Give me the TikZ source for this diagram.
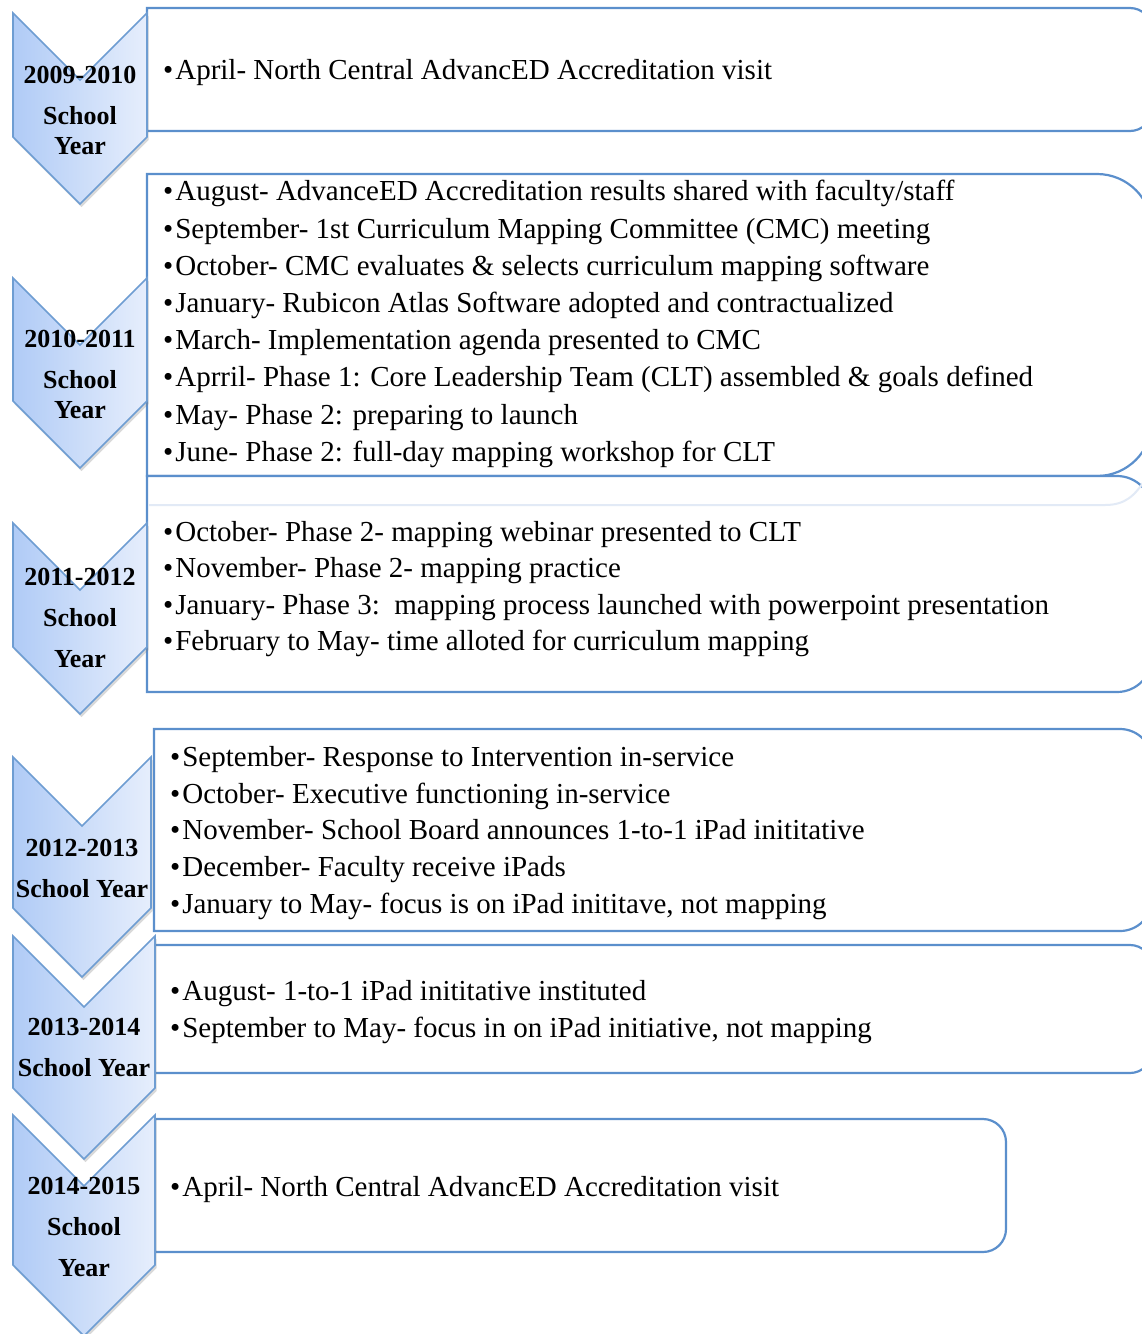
\documentclass[tikz,border=0pt]{standalone}
\usepackage{fontspec}
\setmainfont{Liberation Serif}
\usetikzlibrary{shadows}

\definecolor{boxblue}{RGB}{91,143,204}
\definecolor{chevline}{RGB}{110,157,210}
\definecolor{chevdark}{RGB}{176,203,246}
\definecolor{chevlight}{RGB}{230,238,252}
\definecolor{faintblue}{RGB}{226,234,246}

\tikzset{
  eventline/.style={draw=boxblue, line width=2.2pt, fill=white},
  faintline/.style={draw=faintblue, line width=2pt},
  yearchev/.style={draw=chevline, line width=1.6pt, left color=chevdark, right color=chevlight,
    drop shadow={shadow xshift=1.5pt, shadow yshift=-3pt, opacity=0.3}},
  yearlabel/.style={font=\bfseries\fontsize{26}{41}\selectfont, align=center, inner sep=0pt},
  eventtext/.style={anchor=west, font=\fontsize{29}{37.2}\selectfont, align=left, inner sep=0pt},
}

% bullet as the picture sets it
\newcommand{\bul}{•\kern2pt}

% box with square left corners and round right corners: x1, y1, x2, y2, radius
\newcommand{\evbox}[5]{%
  \path[eventline] (#1,#2) -- ({#3-#5},#2)
    .. controls ({#3-0.448*#5},#2) and (#3,{#2+0.448*#5}) .. (#3,{#2+#5})
    -- (#3,{#4-#5})
    .. controls (#3,{#4-0.448*#5}) and ({#3-0.448*#5},#4) .. ({#3-#5},#4)
    -- (#1,#4) -- cycle;}

% chevron: left x, right x, top y, y where the sides end
\newcommand{\yearchevron}[4]{%
  \path[yearchev] (#1,#3) -- ({(#1+#2)/2},{#3+(#2-#1)/2}) -- (#2,#3) -- (#2,#4)
    -- ({(#1+#2)/2},{#4+(#2-#1)/2}) -- (#1,#4) -- cycle;}

\begin{document}
\begin{tikzpicture}[x=1pt,y=-1pt]
  \useasboundingbox (0,0) rectangle (1142,1334);

  % event boxes
  \evbox{147}{8}{1152}{131}{22}
  \evbox{147}{174}{1152}{476}{55}
  \evbox{147}{476}{1152}{692}{35}
  \draw[faintline] (149,505) -- (1105,505) .. controls (1125,505) and (1135,496) .. (1146,478);
  \evbox{154}{729}{1152}{931}{32}
  \evbox{154}{945}{1152}{1073}{22}
  \evbox{155}{1119}{1006}{1252}{23}

  % year chevrons
  \yearchevron{13}{147}{13}{137}
  \yearchevron{13}{147}{278}{401}
  \yearchevron{13}{147}{523}{647}
  \yearchevron{13}{151}{757}{908}
  \yearchevron{13}{155}{936}{1088}
  \yearchevron{13}{155}{1115}{1265}

  % year labels
  \node[yearlabel] (y1) at (80,110) {2009-2010\\School\\[-11pt]Year};
  \node[yearlabel] (y2) at (80,374) {2010-2011\\School\\[-11pt]Year};
  \node[yearlabel] (y3) at (80,618) {2011-2012\\School\\Year};
  \node[yearlabel] (y4) at (82,868) {2012-2013\\School Year};
  \node[yearlabel] (y5) at (84,1047) {2013-2014\\School Year};
  \node[yearlabel] (y6) at (84,1227) {2014-2015\\School\\Year};

  % events
  \node[eventtext] (e1) at (163,73) {\bul April- North Central AdvancED Accreditation visit};
  \node[eventtext] (e2) at (163,324) {\bul August- AdvanceED Accreditation results shared with faculty/staff\\
    \bul September- 1st Curriculum Mapping Committee (CMC) meeting\\
    \bul October- CMC evaluates \& selects curriculum mapping software\\
    \bul January- Rubicon Atlas Software adopted and contractualized\\
    \bul March- Implementation agenda presented to CMC\\
    \bul Aprril- Phase 1: Core Leadership Team (CLT) assembled \& goals defined\\
    \bul May- Phase 2: preparing to launch\\
    \bul June- Phase 2: full-day mapping workshop for CLT};
  \node[eventtext, font=\fontsize{29}{36.5}\selectfont] (e3) at (163,589) {\bul October- Phase 2- mapping webinar presented to CLT\\
    \bul November- Phase 2- mapping practice\\
    \bul January- Phase 3:\ \ mapping process launched with powerpoint presentation\\
    \bul February to May- time alloted for curriculum mapping};
  \node[eventtext, font=\fontsize{29}{36.8}\selectfont] (e4) at (170,833) {\bul September- Response to Intervention in-service\\
    \bul October- Executive functioning in-service\\
    \bul November- School Board announces 1-to-1 iPad inititative\\
    \bul December- Faculty receive iPads\\
    \bul January to May- focus is on iPad inititave, not mapping};
  \node[eventtext] (e5) at (170,1012) {\bul August- 1-to-1 iPad inititative instituted\\
    \bul September to May- focus in on iPad initiative, not mapping};
  \node[eventtext] (e6) at (170,1190) {\bul April- North Central AdvancED Accreditation visit};
\end{tikzpicture}
\end{document}
